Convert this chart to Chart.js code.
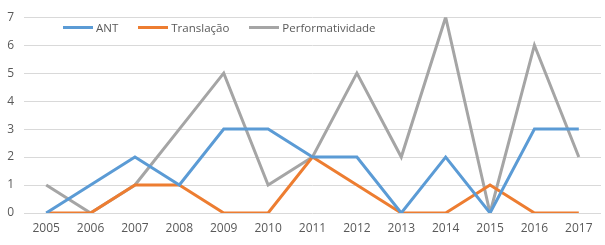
<!DOCTYPE html>
<html>
<head>
<meta charset="utf-8">
<script src="https://cdn.jsdelivr.net/npm/chart.js@4/dist/chart.umd.min.js"></script>
<style>
  html, body { margin: 0; padding: 0; background: #fff; }
  #wrap { position: relative; width: 605px; height: 245px; }
  #legend {
    position: absolute; top: 20px; left: 63px;
    font-family: "Open Sans", sans-serif; font-size: 11.5px; color: #595959;
    display: flex; white-space: nowrap;
  }
  .item { display: flex; align-items: center; }
  .swatch { width: 30px; height: 3px; margin-right: 3px; }
</style>
</head>
<body>
<div id="wrap">
  <canvas id="chart" width="605" height="245"></canvas>
  <div id="legend"></div>
</div>
<script>
const years = ["2005", "2006", "2007", "2008", "2009", "2010", "2011", "2012", "2013", "2014", "2015", "2016", "2017"];
const ant = [0, 1, 2, 1, 3, 3, 2, 2, 0, 2, 0, 3, 3];
const translacao = [0, 0, 1, 1, 0, 0, 2, 1, 0, 0, 1, 0, 0];
const performatividade = [1, 0, 1, 3, 5, 1, 2, 5, 2, 7, 0, 6, 2];

const seriesNames = ["ANT", "Translação", "Performatividade"];
const seriesColors = ["#5B9BD5", "#ED7D31", "#A5A5A5"];

// legend sits inside the plot area like in the original
let legendBox = document.getElementById("legend");
seriesNames.forEach((name, i) => {
  let item = document.createElement("div");
  item.className = "item";
  item.style.marginRight = i < 2 ? "20px" : "0";
  item.innerHTML = `<span class="swatch" style="background:${seriesColors[i]}"></span><span>${name}</span>`;
  legendBox.appendChild(item);
});

let ctx = document.getElementById("chart");
new Chart(ctx, {
  type: "line",
  data: {
    labels: years,
    datasets: [ant, translacao, performatividade].map((values, i) => ({
      label: seriesNames[i],
      data: values,
      borderColor: seriesColors[i],
      backgroundColor: seriesColors[i],
      borderWidth: 3,
      pointRadius: 0,
      tension: 0,
      fill: false,
    })),
  },
  options: {
    responsive: false,
    animation: false,
    layout: { padding: { top: 14, right: 4, bottom: 0, left: 0 } },
    plugins: {
      legend: { display: false },
      tooltip: { enabled: false },
    },
    scales: {
      x: {
        offset: true,
        grid: { display: false, drawTicks: false },
        border: { display: false },
        ticks: {
          color: "#595959",
          font: { family: "Open Sans", size: 12 },
          padding: 8,
          maxRotation: 0,
          autoSkip: false,
        },
        afterFit: (scale) => { scale.height = 32; },
      },
      y: {
        min: 0,
        max: 7,
        grid: { color: "#D9D9D9", lineWidth: 1, drawTicks: false },
        border: { display: false },
        ticks: {
          stepSize: 1,
          color: "#595959",
          font: { family: "Open Sans", size: 12 },
          padding: 10,
        },
        afterFit: (scale) => { scale.width = 24; },
      },
    },
  },
});
</script>
</body>
</html>
